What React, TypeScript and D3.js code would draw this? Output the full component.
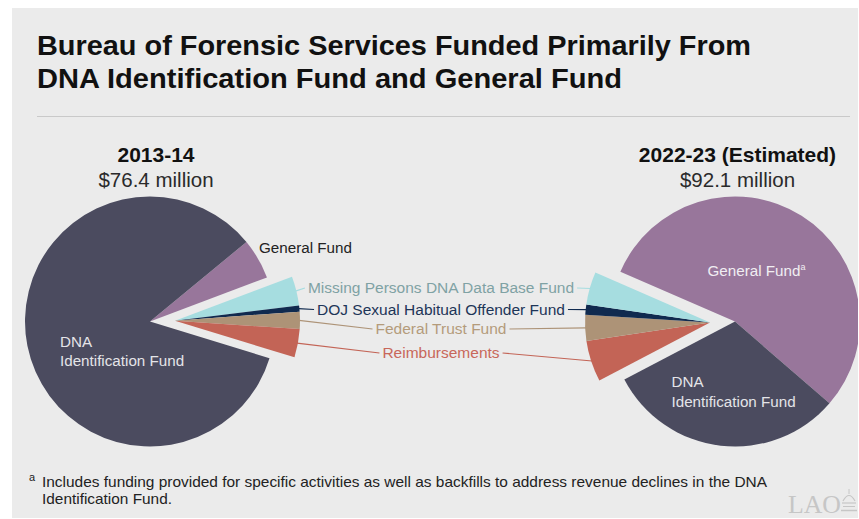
import React, { useEffect, useRef } from 'react';
import * as d3 from 'd3';

// ---- Data ----
const fundKeys = ['gf', 'mp', 'doj', 'ftf', 'reimb', 'dna'];
const fundNames = [
  'General Fund',
  'Missing Persons DNA Data Base Fund',
  'DOJ Sexual Habitual Offender Fund',
  'Federal Trust Fund',
  'Reimbursements',
  'DNA Identification Fund',
];
// $ millions, 2013-14 (total 76.4)
const values1314 = [4.0, 2.9, 0.6, 1.7, 2.8, 64.4];
// $ millions, 2022-23 estimated (total 92.1)
const values2223 = [50.5, 3.9, 1.2, 3.1, 4.9, 28.5];
// clockwise drawing order of slices for each pie
const order1314 = ['gf', 'mp', 'doj', 'ftf', 'reimb', 'dna'];
const order2223 = ['gf', 'dna', 'reimb', 'ftf', 'doj', 'mp'];
const startDeg1314 = 50.5;
const startDeg2223 = -66.5;
const smallFunds = ['mp', 'doj', 'ftf', 'reimb'];
const pieYears = ['2013-14', '2022-23 (Estimated)'];
const pieTotals = ['$76.4 million', '$92.1 million'];

const sliceColors: Record<string, string> = {
  gf: '#98769b',
  mp: '#a6dde0',
  doj: '#102a4f',
  ftf: '#ad9377',
  reimb: '#c36456',
  dna: '#4b4b5f',
};
const labelColors: Record<string, string> = {
  mp: '#7fa2a4',
  doj: '#1d3558',
  ftf: '#b49b7b',
  reimb: '#c8675a',
};

const W = 859;
const H = 519;
const FONT = '"Liberation Sans", Arial, Helvetica, sans-serif';

export default function App() {
  const ref = useRef<SVGSVGElement | null>(null);

  useEffect(() => {
    const svg = d3.select(ref.current);
    svg.selectAll('*').remove();

    // background
    svg.append('rect').attr('width', W).attr('height', H).attr('fill', '#ffffff');
    svg.append('rect').attr('x', 12).attr('y', 8).attr('width', 846).attr('height', 510).attr('fill', '#ebebeb');
    const defs = svg.append('defs');
    defs.append('clipPath').attr('id', 'panel')
      .append('rect').attr('x', 12).attr('y', 8).attr('width', 846).attr('height', 510);

    // title
    const title = svg.append('g').attr('font-family', FONT).attr('font-weight', 'bold').attr('fill', '#111');
    title.append('text').attr('x', 37).attr('y', 55).attr('font-size', 28)
      .attr('textLength', 714).attr('lengthAdjust', 'spacingAndGlyphs')
      .text('Bureau of Forensic Services Funded Primarily From');
    title.append('text').attr('x', 37).attr('y', 88).attr('font-size', 28)
      .attr('textLength', 585).attr('lengthAdjust', 'spacingAndGlyphs')
      .text('DNA Identification Fund and General Fund');
    svg.append('line').attr('x1', 37).attr('x2', 850).attr('y1', 116.5).attr('y2', 116.5)
      .attr('stroke', '#c9c9c9').attr('stroke-width', 1.2);

    const R = 125;
    const cy = 321.5;
    const explode = 25;
    const arc = d3.arc<d3.PieArcDatum<{ key: string; value: number }>>().innerRadius(0).outerRadius(R);

    const pies = [
      { cx: 150, hx: 156, values: values1314, order: order1314, start: startDeg1314 },
      { cx: 735, hx: 737.5, values: values2223, order: order2223, start: startDeg2223 },
    ];

    const lbl = { mp: 293, doj: 314.5, ftf: 334, reimb: 358 } as Record<string, number>;
    const labelCx = 441;

    // middle labels (measure first)
    const labelG = svg.append('g').attr('font-family', FONT).attr('font-size', 15.5);
    const labelBounds: Record<string, [number, number]> = {};
    smallFunds.forEach((k) => {
      const t = labelG.append('text').attr('x', labelCx).attr('y', lbl[k])
        .attr('text-anchor', 'middle').attr('fill', labelColors[k])
        .text(fundNames[fundKeys.indexOf(k)]);
      const w = (t.node() as SVGTextElement).getComputedTextLength();
      labelBounds[k] = [labelCx - w / 2, labelCx + w / 2];
    });

    pies.forEach((p, pi) => {
      const data = p.order.map((k) => ({ key: k, value: p.values[fundKeys.indexOf(k)] }));
      const a0 = (p.start * Math.PI) / 180;
      const arcs = d3.pie<{ key: string; value: number }>().sort(null).value((d) => d.value)
        .startAngle(a0).endAngle(a0 + 2 * Math.PI)(data);
      const small = arcs.filter((d) => smallFunds.includes(d.data.key));
      const gs = d3.min(small, (d) => d.startAngle)!;
      const ge = d3.max(small, (d) => d.endAngle)!;
      const gm = (gs + ge) / 2;
      const ox = explode * Math.sin(gm);
      const oy = -explode * Math.cos(gm);

      const g = svg.append('g').attr('clip-path', 'url(#panel)');
      const big = g.append('g').attr('transform', `translate(${p.cx},${cy})`);
      const grp = g.append('g').attr('transform', `translate(${p.cx + ox},${cy + oy})`);
      arcs.forEach((d) => {
        const isSmall = smallFunds.includes(d.data.key);
        (isSmall ? grp : big).append('path').attr('d', arc(d) as string)
          .attr('fill', sliceColors[d.data.key]);
      });

      // leader lines
      small.forEach((d) => {
        const m = (d.startAngle + d.endAngle) / 2;
        const x1 = p.cx + ox + (R - 1) * Math.sin(m);
        const y1 = cy + oy - (R - 1) * Math.cos(m);
        const [lx0, lx1] = labelBounds[d.data.key];
        const x2 = pi === 0 ? lx0 - 3 : lx1 + 3;
        const y2 = lbl[d.data.key] - 5;
        svg.append('line').attr('x1', x1).attr('y1', y1).attr('x2', x2).attr('y2', y2)
          .attr('stroke', sliceColors[d.data.key]).attr('stroke-width', 1.2);
      });

      // headers
      svg.append('text').attr('x', p.hx).attr('y', 162).attr('text-anchor', 'middle')
        .attr('font-family', FONT).attr('font-weight', 'bold').attr('font-size', 21).attr('fill', '#111')
        .text(pieYears[pi]);
      svg.append('text').attr('x', p.hx).attr('y', 187).attr('text-anchor', 'middle')
        .attr('font-family', FONT).attr('font-size', 20.5).attr('fill', '#2a2a2a')
        .text(pieTotals[pi]);
    });

    // slice labels inside/near pies
    const sl = svg.append('g').attr('font-family', FONT).attr('font-size', 15.2);
    sl.append('text').attr('x', 259).attr('y', 253).attr('fill', '#222').text('General Fund');
    sl.append('text').attr('x', 60).attr('y', 346.5).attr('fill', '#e4e4e8').text('DNA');
    sl.append('text').attr('x', 60).attr('y', 366).attr('fill', '#e4e4e8').text('Identification Fund');
    const gfR = sl.append('text').attr('x', 707.5).attr('y', 275.5).attr('fill', '#f0eef2');
    gfR.append('tspan').text('General Fund');
    gfR.append('tspan').attr('font-size', 9).attr('dy', -6).text('a');
    sl.append('text').attr('x', 671.5).attr('y', 387).attr('fill', '#e4e4e8').text('DNA');
    sl.append('text').attr('x', 671.5).attr('y', 406.5).attr('fill', '#e4e4e8').text('Identification Fund');

    // footnote
    const FN = '"Liberation Sans Narrow", "Arial Narrow", ' + FONT;
    const fn = svg.append('g').attr('font-family', FN).attr('fill', '#222');
    fn.append('text').attr('x', 29).attr('y', 481).attr('font-size', 11).text('a');
    fn.append('text').attr('x', 42).attr('y', 487).attr('font-size', 14.5)
      .attr('textLength', 725).attr('lengthAdjust', 'spacingAndGlyphs')
      .text('Includes funding provided for specific activities as well as backfills to address revenue declines in the DNA');
    fn.append('text').attr('x', 42).attr('y', 504).attr('font-size', 14.5)
      .attr('textLength', 130).attr('lengthAdjust', 'spacingAndGlyphs')
      .text('Identification Fund.');

    // LAO logo
    const logo = svg.append('g').attr('fill', 'none').attr('stroke', '#c6c6c6');
    svg.append('text').attr('x', 788).attr('y', 512.5).attr('font-family', '"Liberation Serif", "DejaVu Serif", serif')
      .attr('font-size', 26).attr('fill', '#c6c6c6').attr('textLength', 53).attr('lengthAdjust', 'spacingAndGlyphs')
      .text('LAO');
    logo.append('path').attr('d', 'M843,501 Q849,490 855,501').attr('stroke-width', 1.2);
    logo.append('line').attr('x1', 849).attr('x2', 849).attr('y1', 489).attr('y2', 494).attr('stroke-width', 1);
    logo.append('line').attr('x1', 842).attr('x2', 856).attr('y1', 503).attr('y2', 503).attr('stroke-width', 1.2);
    logo.append('line').attr('x1', 843).attr('x2', 855).attr('y1', 506.5).attr('y2', 506.5).attr('stroke-width', 1);
    logo.append('line').attr('x1', 841).attr('x2', 857).attr('y1', 510.5).attr('y2', 510.5).attr('stroke-width', 1.5);
  }, []);

  return (
    <svg
      ref={ref}
      width={W}
      height={H}
      style={{ position: 'absolute', left: 0, top: 0, display: 'block' }}
    />
  );
}
